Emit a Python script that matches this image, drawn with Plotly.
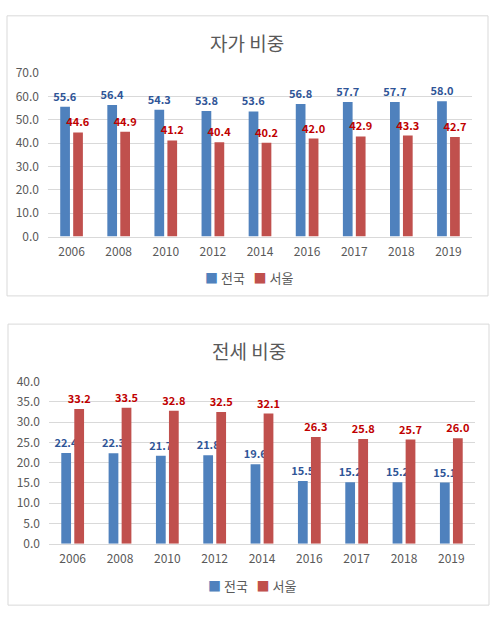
"""
Two grouped bar charts: share of owner-occupied (자가) and jeonse (전세) housing.
"""

import plotly.graph_objects as go

years = ["2006", "2008", "2010", "2012", "2014", "2016", "2017", "2018", "2019"]

own_national = [55.6, 56.4, 54.3, 53.8, 53.6, 56.8, 57.7, 57.7, 58.0]
own_seoul = [44.6, 44.9, 41.2, 40.4, 40.2, 42.0, 42.9, 43.3, 42.7]

jeonse_national = [22.4, 22.3, 21.7, 21.8, 19.6, 15.5, 15.2, 15.2, 15.1]
jeonse_seoul = [33.2, 33.5, 32.8, 32.5, 32.1, 26.3, 25.8, 25.7, 26.0]

series_names = ["전국", "서울"]

BLUE = "#4F81BD"
RED = "#C0504D"
BLUE_TEXT = "#2F5597"
RED_TEXT = "#C00000"
GREY = "#595959"
GRID = "#D9D9D9"
FONT = "Noto Sans CJK KR, sans-serif"

W, H = 498, 617


def px_x(p):
    return p / W


def px_y(p):
    return 1 - p / H


def bar(values, name, color, text_color, xaxis, yaxis):
    return go.Bar(
        x=years,
        y=values,
        name=name,
        marker=dict(color=color, line=dict(width=0)),
        texttemplate="%{y:.1f}",
        textposition="outside",
        constraintext="none",
        outsidetextfont=dict(family=FONT, size=11, color=text_color, weight="bold"),
        cliponaxis=False,
        xaxis=xaxis,
        yaxis=yaxis,
        showlegend=False,
        hoverinfo="skip",
    )


fig = go.Figure()
fig.add_trace(bar(own_national, series_names[0], BLUE, BLUE_TEXT, "x", "y"))
fig.add_trace(bar(own_seoul, series_names[1], RED, RED_TEXT, "x", "y"))
fig.add_trace(bar(jeonse_national, series_names[0], BLUE, BLUE_TEXT, "x2", "y2"))
fig.add_trace(bar(jeonse_seoul, series_names[1], RED, RED_TEXT, "x2", "y2"))

axis_x = dict(
    type="category",
    showgrid=False,
    showline=True,
    linecolor=GRID,
    ticks="",
    ticklabelstandoff=4,
    tickfont=dict(family=FONT, size=12, color=GREY),
)
axis_y = dict(
    showgrid=True,
    gridcolor=GRID,
    zeroline=False,
    showline=False,
    tickformat=".1f",
    ticks="",
    ticklabelstandoff=8,
    tickfont=dict(family=FONT, size=12, color=GREY),
)

# compact Excel-style legend drawn as text
legend_text = (
    f'<span style="color:{BLUE}">■</span> {series_names[0]}   '
    f'<span style="color:{RED}">■</span> {series_names[1]}'
)

fig.update_layout(
    width=W,
    height=H,
    margin=dict(l=0, r=0, t=0, b=0),
    paper_bgcolor="white",
    plot_bgcolor="white",
    barmode="group",
    bargap=0.45,
    bargroupgap=0.25,
    font=dict(family=FONT, color=GREY),
    xaxis=dict(axis_x, domain=[px_x(48), px_x(472)], anchor="y"),
    yaxis=dict(axis_y, domain=[px_y(233), px_y(65)], range=[0, 70], dtick=10, anchor="x"),
    xaxis2=dict(axis_x, domain=[px_x(49), px_x(475)], anchor="y2"),
    yaxis2=dict(axis_y, domain=[px_y(549), px_y(382)], range=[0, 40], dtick=5, anchor="x2"),
    shapes=[
        dict(type="rect", xref="paper", yref="paper",
             x0=px_x(7), x1=px_x(488), y0=px_y(294), y1=px_y(6),
             line=dict(color=GRID, width=1)),
        dict(type="rect", xref="paper", yref="paper",
             x0=px_x(8), x1=px_x(489), y0=px_y(612), y1=px_y(323),
             line=dict(color=GRID, width=1)),
    ],
    annotations=[
        dict(text="자가 비중", xref="paper", yref="paper", x=px_x(247), y=px_y(33),
             showarrow=False, xanchor="center", yanchor="middle",
             font=dict(family=FONT, size=19, color=GREY)),
        dict(text="전세 비중", xref="paper", yref="paper", x=px_x(249), y=px_y(350),
             showarrow=False, xanchor="center", yanchor="middle",
             font=dict(family=FONT, size=19, color=GREY)),
        dict(text=legend_text, xref="paper", yref="paper", x=px_x(249), y=px_y(275),
             showarrow=False, xanchor="center", yanchor="middle",
             font=dict(family=FONT, size=13, color=GREY)),
        dict(text=legend_text, xref="paper", yref="paper", x=px_x(252), y=px_y(592),
             showarrow=False, xanchor="center", yanchor="middle",
             font=dict(family=FONT, size=13, color=GREY)),
    ],
)

fig.write_html(
    "out.html",
    config={"displayModeBar": False},
    post_script="document.body.style.margin='0';",
)
